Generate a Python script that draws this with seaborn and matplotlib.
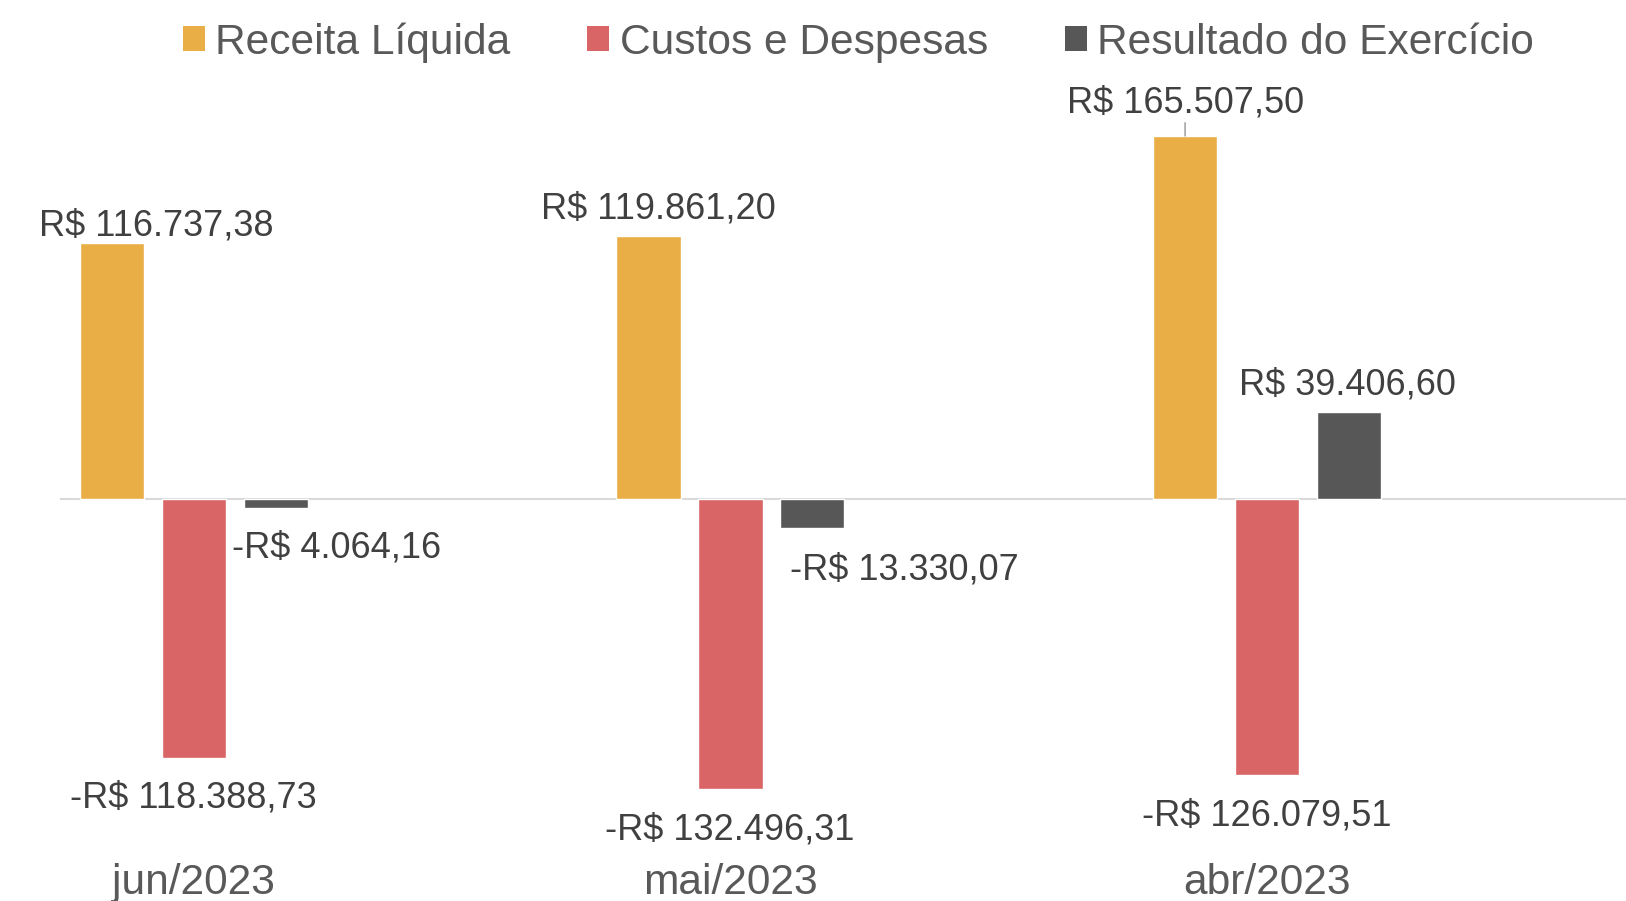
import pandas as pd
import matplotlib
matplotlib.use('Agg')
import matplotlib.pyplot as plt
import seaborn as sns
from matplotlib.patches import Patch

# --- Daten ---
categorias = ['jun/2023', 'mai/2023', 'abr/2023']
series = ['Receita Líquida', 'Custos e Despesas', 'Resultado do Exercício']
receita = [116737.38, 119861.20, 165507.50]
custos = [-118388.73, -132496.31, -126079.51]
resultado = [-4064.16, -13330.07, 39406.60]
cores = ['#E9AF46', '#D96566', '#575757']


def brl(v):
    s = f'{abs(v):,.2f}'.replace(',', 'X').replace('.', ',').replace('X', '.')
    return ('-R$ ' if v < 0 else 'R$ ') + s


df = pd.DataFrame({
    'Mes': categorias * 3,
    'Serie': [series[0]] * 3 + [series[1]] * 3 + [series[2]] * 3,
    'Valor': receita + custos + resultado,
})

sns.set_theme(style='white')
plt.rcParams['font.family'] = ['Liberation Sans', 'DejaVu Sans']

fig = plt.figure(figsize=(16.26, 9.01), dpi=100)
ax = fig.add_axes([0.037, 0.0566, 0.963, 0.9434])

sns.barplot(data=df, x='Mes', y='Valor', hue='Serie', hue_order=series,
            order=categorias, palette=cores, width=0.458, gap=0.215,
            errorbar=None, legend=False, saturation=1, ax=ax)

ax.set_xlim(-0.249, 2.669)
ax.set_ylim(-160146, 227451)
ax.axhline(0, color='#D9D9D9', lw=1.5, zorder=0.5)
for s in ax.spines.values():
    s.set_visible(False)
ax.set_yticks([])
ax.set_xlabel('')
ax.set_ylabel('')
ax.tick_params(axis='x', length=0, pad=9.5, labelsize=30.6, labelcolor='#595959')

# Rótulos de dados: deslocamentos em pixels (dx, dy) relativos à ponta da barra
desloc = {
    0: [(44, 17), (10, 27), (0, 33)],
    1: [(0, -40), (-1, -41), (0, -41)],
    2: [(61, -40), (92, -42), (-1, 27)],
}
for i, cont in enumerate(ax.containers):
    for j, bar in enumerate(cont):
        v = bar.get_height() if bar.get_y() >= 0 else bar.get_y()
        xc = bar.get_x() + bar.get_width() / 2
        dx, dy = desloc[i][j]
        ax.annotate(brl(v), xy=(xc, v), xytext=(dx * 0.72, dy * 0.72),
                    textcoords='offset points', ha='center', va='center',
                    fontsize=26, color='#404040')
        if i == 0 and j == 2:
            ax.annotate('', xy=(xc, v), xytext=(0, 13 * 0.72),
                        textcoords='offset points',
                        arrowprops=dict(arrowstyle='-', color='#A6A6A6', lw=1.2,
                                        shrinkA=0, shrinkB=0))

handles = [Patch(facecolor=c, edgecolor='none') for c in cores]
leg = fig.legend(handles, series, loc='center', bbox_to_anchor=(0.528, 0.953),
                 ncol=3, frameon=False, fontsize=30.6, handlelength=0.52,
                 handleheight=0.52, handletextpad=0.25, columnspacing=1.8)
for t in leg.get_texts():
    t.set_color('#595959')

fig.savefig('out.png', dpi=100)
